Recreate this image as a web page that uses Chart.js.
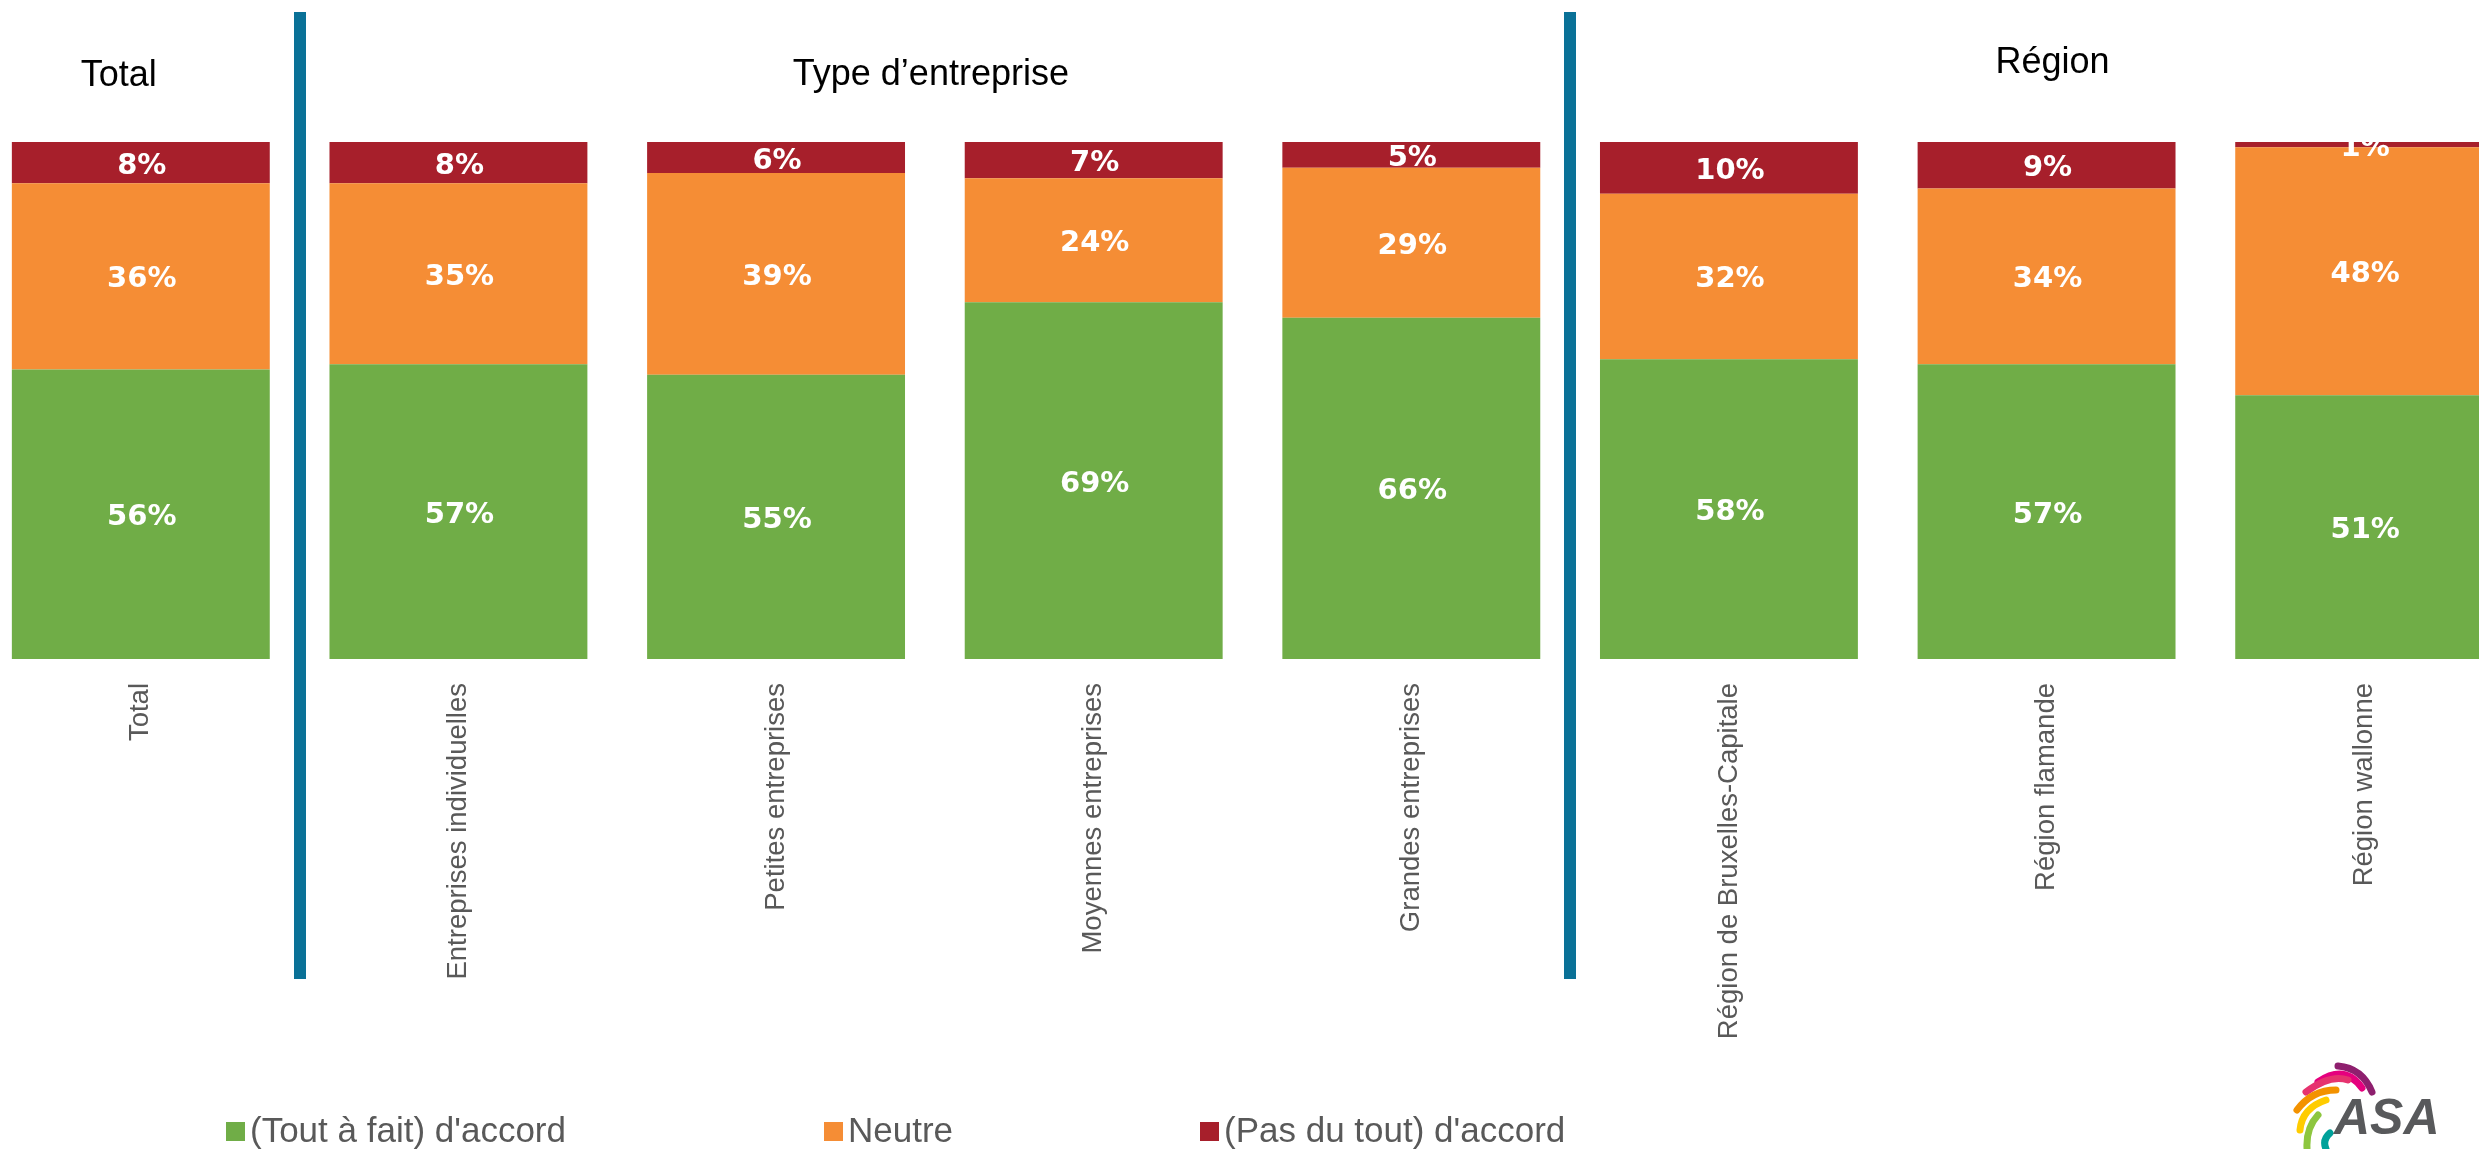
<!DOCTYPE html>
<html lang="fr">
<head>
<meta charset="utf-8">
<title>Accord par type d'entreprise et région</title>
<script src="https://cdn.jsdelivr.net/npm/chart.js@4.4.1/dist/chart.umd.min.js"></script>
<style>
	html, body { margin: 0; padding: 0; background: #fff; overflow: hidden; width: 2479px; height: 1149px; }
	#wrap { position: absolute; left: -18px; top: 0; width: 2541px; height: 1149px; }
	#logo { position: absolute; left: 2280px; top: 1040px; }
	.lg-box { position: absolute; width: 19px; height: 19px; }
	.lg-text { position: absolute; font: 35px "Liberation Sans", Arial, sans-serif; color: #595959; line-height: 35px; white-space: nowrap; }
</style>
</head>
<body>
<div id="wrap"><canvas id="chart" width="2541" height="1149"></canvas></div>
<canvas id="logo" width="199" height="109"></canvas>
<div id="legend"></div>
<script>
var categories = ['Total', 'Entreprises individuelles', 'Petites entreprises', 'Moyennes entreprises', 'Grandes entreprises', 'Région de Bruxelles-Capitale', 'Région flamande', 'Région wallonne'];
var accord = [56, 57, 55, 69, 66, 58, 57, 51];
var neutre = [36, 35, 39, 24, 29, 32, 34, 48];
var pasAccord = [8, 8, 6, 7, 5, 10, 9, 1];
var seriesNames = ['(Tout à fait) d\'accord', 'Neutre', '(Pas du tout) d\'accord'];
var groupNames = ['Total', 'Type d’entreprise', 'Région'];
var groupFrom = [0, 1, 5];
var groupTo = [0, 4, 7];

(function () {
	'use strict';

	var colors = ['#70AD47', '#F58D35', '#A71F2B'];
	var blue = '#0A7197';

	// header placement (centre offset, y) per group
	var headerDx = [-22, -4, 6];
	var headerY = [76, 75, 63];

	var groupPlugin = {
		id: 'groupHeaders',
		afterDraw: function (chart) {
			var ctx = chart.ctx, xs = chart.scales.x;
			ctx.save();
			// separators between groups
			ctx.fillStyle = blue;
			for (var i = 0; i < groupTo.length - 1; i++) {
				var sx = (xs.getPixelForValue(groupTo[i]) + xs.getPixelForValue(groupTo[i] + 1)) / 2;
				ctx.fillRect(Math.round(sx - 6), 12, 12, 967);
			}
			ctx.fillStyle = '#000';
			ctx.font = '36px "Liberation Sans", Arial, sans-serif';
			ctx.textAlign = 'center';
			ctx.textBaseline = 'middle';
			for (var g = 0; g < groupNames.length; g++) {
				var cx = (xs.getPixelForValue(groupFrom[g]) + xs.getPixelForValue(groupTo[g])) / 2;
				ctx.fillText(groupNames[g], cx + headerDx[g], headerY[g]);
			}
			ctx.restore();
		}
	};

	var valuePlugin = {
		id: 'segmentValues',
		afterDatasetsDraw: function (chart) {
			var ctx = chart.ctx, area = chart.chartArea;
			ctx.save();
			ctx.beginPath();
			ctx.rect(area.left, area.top, area.right - area.left, area.bottom - area.top);
			ctx.clip();
			ctx.fillStyle = '#fff';
			ctx.font = 'bold 29px "DejaVu Sans", sans-serif';
			ctx.textAlign = 'center';
			ctx.textBaseline = 'alphabetic';
			chart.data.datasets.forEach(function (ds, i) {
				var meta = chart.getDatasetMeta(i);
				meta.data.forEach(function (bar, j) {
					var mid = (bar.y + bar.base) / 2;
					ctx.fillText(ds.data[j] + '%', bar.x + 1, mid + 11);
				});
			});
			ctx.restore();
		}
	};

	var series = [accord, neutre, pasAccord];
	var datasets = series.map(function (values, i) {
		return {
			label: seriesNames[i],
			data: values,
			backgroundColor: colors[i],
			borderWidth: 0,
			barPercentage: 0.812,
			categoryPercentage: 1
		};
	});

	new Chart(document.getElementById('chart'), {
		type: 'bar',
		data: { labels: categories, datasets: datasets },
		options: {
			responsive: false,
			animation: false,
			devicePixelRatio: 1,
			layout: { padding: { top: 142, left: 0, right: 0, bottom: 0 } },
			plugins: { legend: { display: false }, tooltip: { enabled: false } },
			scales: {
				x: {
					stacked: true,
					grid: { display: false, drawTicks: false },
					border: { display: false },
					ticks: {
						autoSkip: false,
						minRotation: 90,
						maxRotation: 90,
						padding: 24,
						color: '#595959',
						font: { family: '"Liberation Sans", Arial, sans-serif', size: 27.5 }
					},
					afterFit: function (scale) { scale.height = 490; }
				},
				y: {
					stacked: true,
					display: false,
					min: 0,
					max: 100
				}
			}
		},
		plugins: [valuePlugin, groupPlugin]
	});

	// legend, built from the same series
	var legend = document.getElementById('legend');
	var boxX = [226, 824, 1200];
	seriesNames.forEach(function (name, i) {
		var box = document.createElement('div');
		box.className = 'lg-box';
		box.style.left = boxX[i] + 'px';
		box.style.top = '1122px';
		box.style.background = colors[i];
		legend.appendChild(box);
		var txt = document.createElement('div');
		txt.className = 'lg-text';
		txt.style.left = (boxX[i] + 24) + 'px';
		txt.style.top = '1112px';
		txt.textContent = name;
		legend.appendChild(txt);
	});

	// company logo, partly cut by the frame
	var lc = document.getElementById('logo').getContext('2d');
	lc.translate(-2280, -1040);
	lc.lineCap = 'round';
	lc.lineWidth = 7;
	var arcs = [
		['#8E1F6E', 2338, 1066, 2362, 1068, 2372, 1092],
		['#E5007E', 2318, 1082, 2345, 1064, 2362, 1088],
		['#E6336F', 2306, 1092, 2330, 1074, 2348, 1080],
		['#F39200', 2297, 1110, 2312, 1090, 2336, 1090],
		['#FFCC00', 2300, 1130, 2302, 1108, 2326, 1100],
		['#8DC63F', 2307, 1148, 2306, 1128, 2318, 1115],
		['#00A19A', 2326, 1149, 2322, 1140, 2330, 1133]
	];
	arcs.forEach(function (a) {
		lc.strokeStyle = a[0];
		lc.beginPath();
		lc.moveTo(a[1], a[2]);
		lc.quadraticCurveTo(a[3], a[4], a[5], a[6]);
		lc.stroke();
	});
	lc.fillStyle = '#58595B';
	lc.font = 'italic bold 50px "Liberation Sans", Arial, sans-serif';
	lc.fillText('ASA', 2334, 1134);
})();
</script>
</body>
</html>
